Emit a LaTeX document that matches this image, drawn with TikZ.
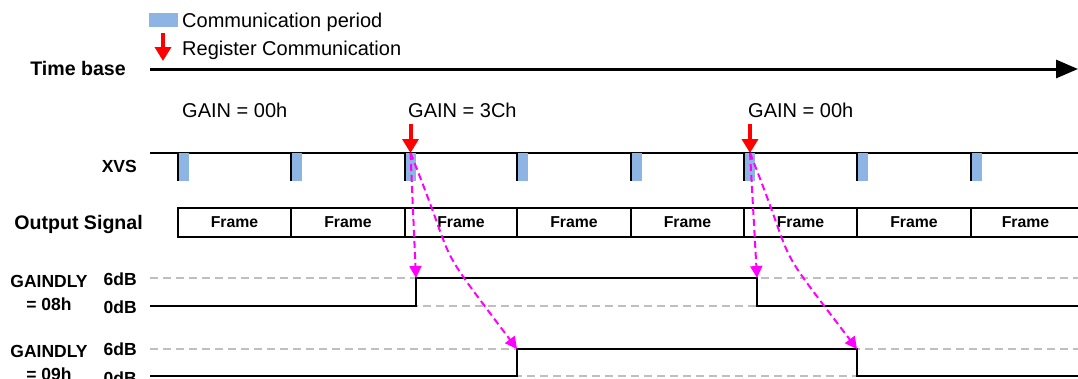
\documentclass[tikz,border=0pt]{standalone}
\usepackage{fontspec}
\setmainfont{Liberation Sans}
\usetikzlibrary{arrows.meta}
\definecolor{commblue}{HTML}{8EB4E3}
\definecolor{regred}{HTML}{FF0000}
\definecolor{magline}{HTML}{FF00FF}
\definecolor{gridgray}{HTML}{BFBFBF}
\tikzset{
  regtxt/.style={font=\fontsize{20}{22}\selectfont, inner sep=0pt},
  bigbold/.style={font=\fontsize{19.6}{22}\selectfont\bfseries, inner sep=0pt},
  midbold/.style={font=\fontsize{17.5}{20}\selectfont\bfseries, inner sep=0pt},
  framebox/.style={draw, line width=2pt, font=\fontsize{15.8}{18}\selectfont\bfseries, inner sep=0pt, minimum height=29pt},
  regarrow/.style={draw=regred, line width=4pt, -{Triangle[width=16pt,length=14pt]}},
  magarrow/.style={draw=magline, line width=2pt, dash pattern=on 7pt off 4pt, -{Triangle[width=12pt,length=12pt]}, magline},
  gridline/.style={draw=gridgray, line width=2pt, dash pattern=on 8pt off 5pt},
  sigline/.style={draw=black, line width=2pt},
}
\begin{document}
\begin{tikzpicture}[x=1pt,y=-1pt]
\useasboundingbox (0,0) rectangle (1078,378);
\begin{scope}
\clip (0,0) rectangle (1078,378);
% legend
\fill[commblue] (149,13) rectangle (178,27);
\node[regtxt, anchor=base west] (leg1) at (182,27) {Communication period};
\coordinate (legA) at (163,33);
\coordinate (legB) at (163,61);
\draw[regarrow] (legA) -- (legB);
\node[regtxt, anchor=base west] (leg2) at (182,55) {Register Communication};
% time base
\node[bigbold, anchor=base east] (tb) at (126,75) {Time base};
\coordinate (tbs) at (150,69);
\coordinate (tbe) at (1078,69);
\draw[line width=3pt, -{Triangle[width=18pt,length=22pt]}] (tbs) -- (tbe);
% gain labels
\node[regtxt, anchor=base west] (g1) at (182,117) {GAIN = 00h};
\node[regtxt, anchor=base west] (g2) at (408,117) {GAIN = 3Ch};
\node[regtxt, anchor=base west] (g3) at (748,117) {GAIN = 00h};
% XVS
\node[midbold, anchor=base east] (xvs) at (137,172) {XVS};
\draw[sigline] (150,153) -- (1078,153);
\foreach \x in {178,291,405,517,631,744,857,971}{
  \fill[commblue] (\x,153) rectangle (\x+11,181);
  \draw[sigline] (\x,153) -- (\x,181);
}
% output signal
\node[bigbold, anchor=base east] (os) at (143,229) {Output Signal};
\foreach \a/\b [count=\i] in {178/291,291/405,405/517,517/631,631/744,744/857,857/971,971/1080}{
  \node[framebox, minimum width={\b-\a}] (f\i) at ({(\a+\b)/2},222.5) {Frame};
}
% GAINDLY = 08h
\node[midbold, anchor=base] (d1a) at (49,287) {GAINDLY};
\node[midbold, anchor=base] (d1b) at (49,310) {= 08h};
\node[midbold, anchor=base east] (d1h) at (137,285) {6dB};
\node[midbold, anchor=base east] (d1l) at (137,313) {0dB};
\draw[gridline] (150,278) -- (1078,278);
\draw[gridline] (150,306) -- (1078,306);
\draw[sigline] (150,306) -- (416,306) -- (416,278) -- (757,278) -- (757,306) -- (1078,306);
% GAINDLY = 09h
\node[midbold, anchor=base] (d2a) at (49,357) {GAINDLY};
\node[midbold, anchor=base] (d2b) at (49,380) {= 09h};
\node[midbold, anchor=base east] (d2h) at (137,355) {6dB};
\node[midbold, anchor=base east] (d2l) at (137,384) {0dB};
\draw[gridline] (150,349) -- (1078,349);
\draw[gridline] (150,376) -- (1078,376);
\draw[sigline] (150,376) -- (517,376) -- (517,349) -- (857,349) -- (857,376) -- (1078,376);
% register communication arrows
\coordinate (r1top) at (410.5,124);
\coordinate (r1) at (410.5,153);
\coordinate (r2top) at (750,124);
\coordinate (r2) at (750,153);
\draw[regarrow] (r1top) -- (r1);
\draw[regarrow] (r2top) -- (r2);
% targets
\coordinate (t1a) at (416,278);
\coordinate (t1b) at (517,349);
\coordinate (t2a) at (757,278);
\coordinate (t2b) at (857,349);
\draw[magarrow] (r1) -- (t1a);
\draw[magarrow] (r1) .. controls (461,278) and (429,232) .. (t1b);
\draw[magarrow] (r2) -- (t2a);
\draw[magarrow] (r2) .. controls (800,278) and (768,232) .. (t2b);
\end{scope}
\end{tikzpicture}
\end{document}
